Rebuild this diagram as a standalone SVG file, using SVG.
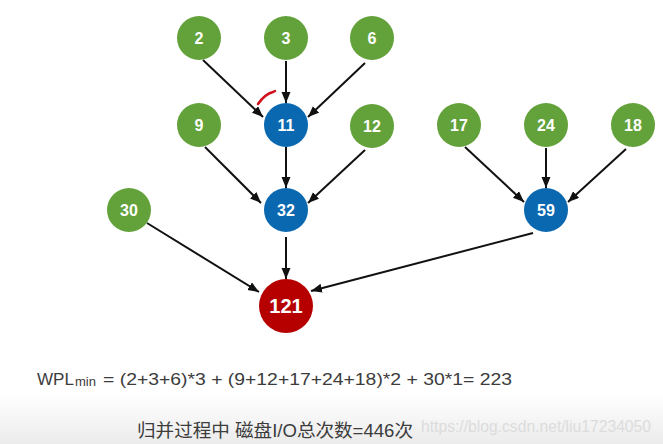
<svg xmlns="http://www.w3.org/2000/svg" width="663" height="444" viewBox="0 0 663 444">
<defs>
<marker id="ah" markerUnits="userSpaceOnUse" markerWidth="12" markerHeight="10" refX="11" refY="4.5" orient="auto">
<path d="M0,0 L11,4.5 L0,9 z" fill="#111"/>
</marker>
<linearGradient id="bg" x1="0" y1="0" x2="0" y2="1">
<stop offset="0" stop-color="#ffffff"/>
<stop offset="1" stop-color="#ebebeb"/>
</linearGradient>
<style>
.g{fill:#63a23a}
.b{fill:#0a68b1}
.r{fill:#b60000}
.t{font-family:"Liberation Sans",Arial,sans-serif;font-weight:bold;font-size:16px;fill:#fff;text-anchor:middle}
.e{stroke:#111;stroke-width:2;fill:none;marker-end:url(#ah)}
.f{font-family:"Liberation Sans",Arial,sans-serif;fill:#3c3c3c}
</style>
</defs>
<rect x="0" y="0" width="663" height="444" fill="#fff"/>
<rect x="0" y="395" width="663" height="49" fill="url(#bg)"/>
<g id="connectors">
<line class="e" x1="203" y1="60" x2="263" y2="117"/>
<line class="e" x1="286" y1="61" x2="286" y2="103"/>
<line class="e" x1="365" y1="63" x2="308" y2="117"/>
<line class="e" x1="205" y1="147" x2="261" y2="203"/>
<line class="e" x1="286" y1="147" x2="286" y2="188"/>
<line class="e" x1="365" y1="150" x2="308" y2="203"/>
<line class="e" x1="147" y1="223" x2="259" y2="292"/>
<line class="e" x1="286" y1="237" x2="286" y2="279"/>
<line class="e" x1="465" y1="147" x2="524" y2="202"/>
<line class="e" x1="546" y1="148" x2="546" y2="188"/>
<line class="e" x1="626" y1="149" x2="568" y2="202"/>
<line class="e" x1="533" y1="233" x2="311" y2="291"/>
</g>
<path id="mark" d="M258,104 Q265,94 273,92 L275,91" stroke="#d0101a" stroke-width="2.5" fill="none" stroke-linecap="round"/>
<g id="n2"><circle class="g" cx="199" cy="38" r="22"/><text class="t" x="199" y="44">2</text></g>
<g id="n3"><circle class="g" cx="286" cy="38" r="22"/><text class="t" x="286" y="44">3</text></g>
<g id="n6"><circle class="g" cx="372" cy="38" r="22"/><text class="t" x="372" y="44">6</text></g>
<g id="n9"><circle class="g" cx="199" cy="125" r="22"/><text class="t" x="199" y="131">9</text></g>
<g id="n11"><circle class="b" cx="286" cy="125" r="22"/><text class="t" x="286" y="131">11</text></g>
<g id="n12"><circle class="g" cx="372" cy="126" r="22"/><text class="t" x="372" y="132">12</text></g>
<g id="n30"><circle class="g" cx="129" cy="210" r="22"/><text class="t" x="129" y="216">30</text></g>
<g id="n32"><circle class="b" cx="286" cy="210" r="22"/><text class="t" x="286" y="216">32</text></g>
<g id="n17"><circle class="g" cx="459" cy="125" r="22"/><text class="t" x="459" y="131">17</text></g>
<g id="n24"><circle class="g" cx="546" cy="125" r="22"/><text class="t" x="546" y="131">24</text></g>
<g id="n18"><circle class="g" cx="633" cy="125" r="22"/><text class="t" x="633" y="131">18</text></g>
<g id="n59"><circle class="b" cx="546" cy="210" r="22"/><text class="t" x="546" y="216">59</text></g>
<g id="n121"><circle class="r" cx="286" cy="306" r="27"/><text class="t" x="286" y="313" style="font-size:20px">121</text></g>
<g id="formula">
<text class="f" x="37" y="384.5" font-size="17" textLength="37" lengthAdjust="spacingAndGlyphs">WPL</text>
<text class="f" x="75" y="385.5" font-size="12" textLength="21" lengthAdjust="spacingAndGlyphs">min</text>
<text class="f" x="103" y="384.5" font-size="17" textLength="409" lengthAdjust="spacingAndGlyphs">= (2+3+6)*3 + (9+12+17+24+18)*2 + 30*1= 223</text>
</g>
<text class="f" x="137" y="437" font-size="18" textLength="276" lengthAdjust="spacingAndGlyphs" style="font-family:'Liberation Sans','Noto Sans CJK SC',sans-serif">归并过程中 磁盘I/O总次数=446次</text>
<text x="421" y="432" font-size="16" fill="#dcdcdc" textLength="230" lengthAdjust="spacingAndGlyphs" font-family="Liberation Sans, Arial, sans-serif">https://blog.csdn.net/liu17234050</text>
</svg>
